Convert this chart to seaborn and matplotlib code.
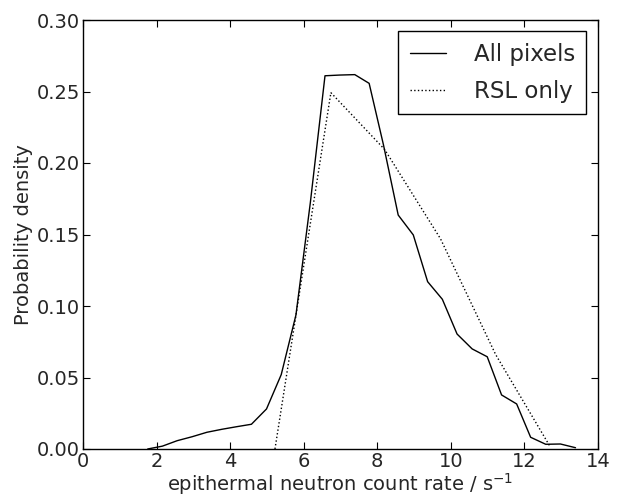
import matplotlib
matplotlib.use("Agg")
import matplotlib.pyplot as plt
import seaborn as sns
import pandas as pd

all_x = [1.76, 2.16, 2.56, 2.97, 3.37, 3.78, 4.18, 4.58, 4.99, 5.39,
         5.79, 6.18, 6.58, 6.98, 7.39, 7.78, 8.17, 8.57, 8.98, 9.37,
         9.77, 10.17, 10.58, 10.99, 11.38, 11.79, 12.17, 12.58, 12.98, 13.39]
all_y = [0.0, 0.002, 0.0058, 0.0086, 0.0117, 0.0138, 0.0156, 0.0173, 0.028, 0.052,
         0.0937, 0.172, 0.261, 0.2615, 0.2618, 0.2557, 0.2126, 0.1636, 0.1497, 0.117,
         0.1047, 0.0804, 0.0700, 0.0645, 0.0378, 0.0315, 0.0082, 0.0033, 0.0035, 0.0009]

rsl_x = [5.22, 6.74, 8.2, 9.72, 11.22, 12.68]
rsl_y = [0.0, 0.2492, 0.2095, 0.147, 0.066, 0.0025]

x_ticks = [0, 2, 4, 6, 8, 10, 12, 14]
y_ticks = [0.00, 0.05, 0.10, 0.15, 0.20, 0.25, 0.30]

sns.set_style("ticks")
plt.rcParams['font.family'] = ['DejaVu Sans']
plt.rcParams['mathtext.fontset'] = 'dejavusans'

fig = plt.figure(figsize=(6.19, 5.0), dpi=100)
ax = fig.add_axes([0.134, 0.102, 0.832, 0.858])

df_all = pd.DataFrame({"x": all_x, "y": all_y})
df_rsl = pd.DataFrame({"x": rsl_x, "y": rsl_y})

sns.lineplot(data=df_all, x="x", y="y", ax=ax, color="black", linewidth=1.0,
             linestyle="-", label="All pixels", sort=False)
sns.lineplot(data=df_rsl, x="x", y="y", ax=ax, color="black", linewidth=1.0,
             linestyle=":", label="RSL only", sort=False)

ax.set_xlim(0, 14)
ax.set_ylim(0, 0.30)
ax.set_xticks(x_ticks)
ax.set_yticks(y_ticks)
ax.set_yticklabels([f"{v:.2f}" for v in y_ticks])
ax.tick_params(direction="in", top=True, right=True, length=5, width=0.8,
               labelsize=14, pad=2, color="black")
for s in ax.spines.values():
    s.set_color("black")
    s.set_linewidth(1.0)

ax.set_xlabel("epithermal neutron count rate / s$^{-1}$", fontsize=14, labelpad=0)
ax.set_ylabel("Probability density", fontsize=14, labelpad=3)

leg = ax.legend(loc="upper right", fontsize=16.5, frameon=True, fancybox=False,
                edgecolor="black", framealpha=1, handlelength=1.6,
                borderaxespad=0.5, handletextpad=1.2, borderpad=0.5,
                labelspacing=0.6)
leg.get_frame().set_linewidth(1.0)

fig.savefig("out.png", dpi=100)
